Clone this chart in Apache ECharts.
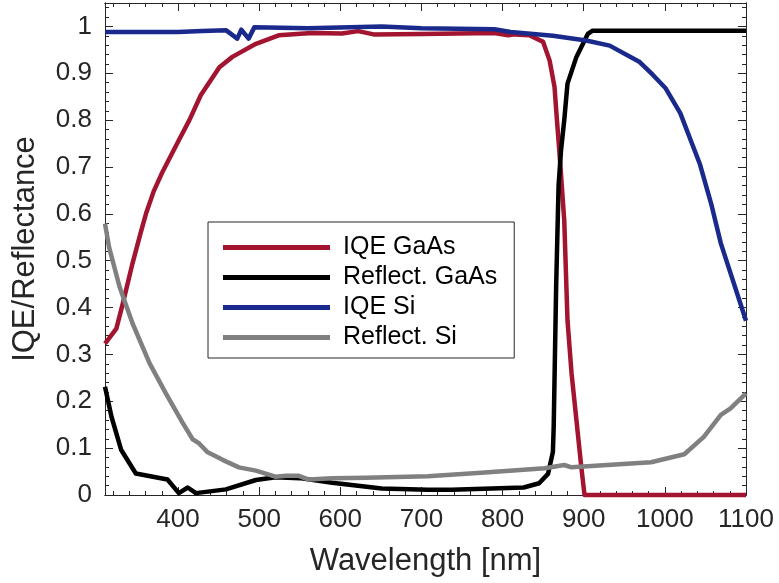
<!DOCTYPE html>
<html>
<head>
<meta charset="utf-8">
<script src="https://cdn.jsdelivr.net/npm/echarts@6/dist/echarts.min.js"></script>
<style>
html,body{margin:0;padding:0;background:#fff;}
#chart{width:779px;height:583px;}
</style>
</head>
<body>
<div id="chart"></div>
<script>
// ---- data ----
const seriesNames = ['IQE GaAs', 'Reflect. GaAs', 'IQE Si', 'Reflect. Si'];
const seriesColors = ['#A2142F', '#000000', '#1A2A8C', '#808080'];

const xTickLabels = [400, 500, 600, 700, 800, 900, 1000, 1100];
const yTickLabels = [0, 0.1, 0.2, 0.3, 0.4, 0.5, 0.6, 0.7, 0.8, 0.9, 1];

const iqeGaAsNm  = [310, 324, 332, 344, 354, 361, 370, 381, 401, 414, 428, 451, 467, 496, 524, 565, 602, 622, 641, 700, 790, 807, 815, 833, 850, 858, 864, 867, 870, 876, 880, 885, 891, 897, 901, 1100];
const iqeGaAsVal = [0.323, 0.355, 0.409, 0.495, 0.560, 0.603, 0.648, 0.690, 0.757, 0.800, 0.853, 0.913, 0.935, 0.963, 0.981, 0.986, 0.985, 0.990, 0.983, 0.984, 0.986, 0.981, 0.983, 0.981, 0.967, 0.927, 0.871, 0.800, 0.733, 0.586, 0.373, 0.260, 0.160, 0.060, 0.0, 0.0];

const reflGaAsNm  = [310, 318, 330, 348, 387, 401, 412, 422, 459, 496, 520, 550, 590, 651, 708, 737, 826, 845, 856, 862, 863, 866, 869, 872, 876, 880, 891, 905, 911, 1100];
const reflGaAsVal = [0.231, 0.167, 0.096, 0.046, 0.033, 0.004, 0.016, 0.004, 0.012, 0.032, 0.038, 0.036, 0.026, 0.014, 0.011, 0.011, 0.016, 0.025, 0.045, 0.092, 0.146, 0.444, 0.660, 0.735, 0.800, 0.878, 0.935, 0.984, 0.991, 0.991];

const iqeSiNm  = [310, 400, 430, 459, 473, 478, 487, 494, 560, 651, 700, 790, 810, 862, 903, 932, 969, 985, 1001, 1019, 1043, 1057, 1069, 1100];
const iqeSiVal = [0.988, 0.988, 0.990, 0.992, 0.974, 0.993, 0.974, 0.998, 0.996, 1.000, 0.996, 0.994, 0.988, 0.980, 0.970, 0.959, 0.924, 0.897, 0.868, 0.815, 0.707, 0.622, 0.537, 0.372];

const reflSiNm  = [310, 315, 328, 344, 365, 385, 405, 418, 426, 436, 455, 475, 496, 520, 533, 549, 561, 590, 631, 708, 778, 852, 876, 885, 983, 1024, 1048, 1069, 1081, 1100];
const reflSiVal = [0.579, 0.529, 0.444, 0.366, 0.281, 0.217, 0.156, 0.119, 0.110, 0.092, 0.075, 0.059, 0.052, 0.039, 0.041, 0.041, 0.033, 0.036, 0.037, 0.040, 0.048, 0.057, 0.064, 0.059, 0.070, 0.087, 0.124, 0.171, 0.185, 0.217];

// ---- helpers ----
function zip(xs, ys) { return xs.map((x, i) => [x, ys[i]]); }
function steps(from, to, step, dec) {
  const out = [];
  for (let v = from; v <= to + 1e-9; v += step) out.push(+v.toFixed(dec));
  return out;
}
const xMinorTicks = steps(320, 1100, 20, 0);
const yMinorTicks = steps(0.02, 1.04, 0.02, 2);

const FONT = 'Liberation Sans, Arial, Helvetica, sans-serif';
const INK = '#262626';
const X_MIN = 310, X_MAX = 1100, Y_MIN = 0, Y_MAX = 1.05;

function xAx(grid, pos, custom, len, showLabel) {
  return {
    type: 'value', gridIndex: grid, position: pos, min: X_MIN, max: X_MAX,
    axisLine: { show: true, onZero: false, lineStyle: { color: INK, width: 1 } },
    axisTick: { show: true, inside: true, length: len, customValues: custom, lineStyle: { color: INK, width: 1 } },
    axisLabel: showLabel ? { show: true, customValues: xTickLabels, color: INK, fontSize: 26, fontFamily: FONT, margin: 12,
      formatter: v => String(v) } : { show: false },
    splitLine: { show: false }
  };
}
function yAx(grid, pos, custom, len, showLabel) {
  return {
    type: 'value', gridIndex: grid, position: pos, min: Y_MIN, max: Y_MAX,
    axisLine: { show: true, onZero: false, lineStyle: { color: INK, width: 1 } },
    axisTick: { show: true, inside: true, length: len, customValues: custom, lineStyle: { color: INK, width: 1 } },
    axisLabel: showLabel ? { show: true, customValues: yTickLabels, color: INK, fontSize: 26, fontFamily: FONT, margin: 13,
      formatter: v => String(+v.toFixed(1)) } : { show: false },
    splitLine: { show: false }
  };
}

const xAxes = [
  xAx(0, 'bottom', xTickLabels, 8, true),
  xAx(0, 'top', xTickLabels, 8, false),
  xAx(1, 'bottom', xMinorTicks, 4, false),
  xAx(1, 'top', xMinorTicks, 4, false)
];
Object.assign(xAxes[0], { name: 'Wavelength [nm]', nameLocation: 'middle', nameGap: 51,
  nameTextStyle: { color: INK, fontSize: 31, fontFamily: FONT } });

const yAxes = [
  yAx(0, 'left', yTickLabels, 8, true),
  yAx(0, 'right', yTickLabels, 8, false),
  yAx(1, 'left', yMinorTicks, 4, false),
  yAx(1, 'right', yMinorTicks, 4, false)
];
Object.assign(yAxes[0], { name: 'IQE/Reflectance', nameLocation: 'middle', nameGap: 64,
  nameTextStyle: { color: INK, fontSize: 31, fontFamily: FONT } });

const dataSets = [zip(iqeGaAsNm, iqeGaAsVal), zip(reflGaAsNm, reflGaAsVal), zip(iqeSiNm, iqeSiVal), zip(reflSiNm, reflSiVal)];

const gridBox = { left: 105, right: 33, top: 3, bottom: 88, containLabel: false };

const chart = echarts.init(document.getElementById('chart'), null, { renderer: 'canvas' });
chart.setOption({
  animation: false,
  backgroundColor: '#fff',
  grid: [Object.assign({}, gridBox), Object.assign({}, gridBox)],
  xAxis: xAxes,
  yAxis: yAxes,
  legend: {
    data: seriesNames,
    orient: 'vertical',
    left: 208, top: 222,
    icon: 'rect',
    itemWidth: 107, itemHeight: 5, itemGap: 5,
    padding: [13, 17, 8, 15],
    borderColor: INK, borderWidth: 1,
    backgroundColor: '#fff',
    textStyle: { color: '#000', fontSize: 25, fontFamily: FONT, lineHeight: 25, padding: [0, 0, 0, 8] },
    selectedMode: false,
    z: 10
  },
  series: seriesNames.map((n, i) => ({
    name: n, type: 'line', xAxisIndex: 0, yAxisIndex: 0,
    data: dataSets[i], showSymbol: false, symbol: 'none',
    color: seriesColors[i],
    lineStyle: { color: seriesColors[i], width: 4.5, join: 'round' },
    clip: false
  }))
});
</script>
</body>
</html>
